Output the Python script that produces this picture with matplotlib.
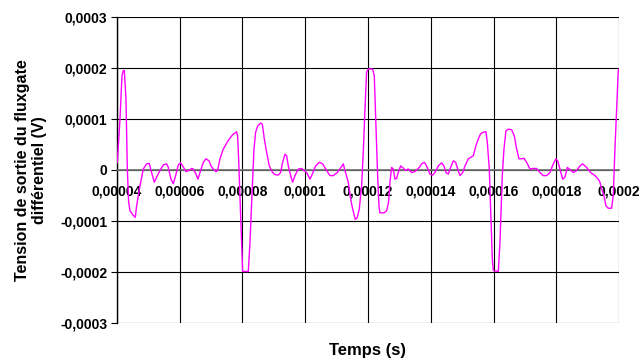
import matplotlib
matplotlib.use('Agg')
import matplotlib.pyplot as plt

plt.rcParams['font.family'] = ['Liberation Sans', 'DejaVu Sans']

# temps en microsecondes, tension en microvolts
t_us = [40.11, 40.96, 41.6, 42.02, 42.34, 42.87, 43.3, 43.72, 44.14, 45.2, 45.84, 46.27,
        47.33, 48.39, 49.45, 50.3, 50.73, 51.9, 52.64, 53.7, 54.76, 55.83, 56.36, 57.21,
        57.95, 58.7, 59.55, 60.29, 60.93, 61.99, 62.94, 63.79, 64.32, 65.17, 65.81, 66.45,
        67.51, 68.36, 69.32, 69.96, 70.7, 71.55, 72.08, 72.82, 73.88, 75.47, 76.85, 78.13,
        78.45, 78.77, 79.19, 79.73, 80.05, 81.85, 82.39, 82.92, 83.66, 84.19, 84.83, 85.79,
        86.32, 86.95, 87.69, 88.54, 89.5, 90.35, 91.41, 92.15, 92.8, 93.54, 94.07, 94.6,
        95.35, 95.99, 96.73, 97.79, 98.85, 99.6, 100.45, 101.51, 102.25, 103.31, 104.48,
        105.54, 106.82, 107.88, 108.94, 110.22, 111.38, 112.13, 112.66, 113.72, 114.47,
        115.1, 115.95, 116.59, 117.23, 117.97, 118.5, 119.04, 119.56, 120.1, 121.47, 122.0,
        122.54, 123.07, 123.49, 123.81, 125.09, 125.93, 126.57, 127.0, 127.53, 128.06,
        128.59, 129.12, 129.65, 130.4, 131.03, 131.99, 132.84, 133.9, 134.96, 136.35,
        137.09, 137.94, 138.68, 139.74, 140.6, 141.34, 142.4, 143.46, 144.2, 144.84, 145.6,
        146.34, 147.19, 147.93, 148.57, 149.32, 150.17, 150.91, 151.97, 152.82, 153.56,
        154.41, 155.16, 155.9, 156.75, 157.6, 158.03, 158.66, 159.09, 159.62, 159.94,
        161.53, 162.06, 162.8, 163.33, 163.97, 164.72, 165.78, 166.63, 167.37, 168.11,
        168.96, 169.71, 170.56, 171.62, 172.68, 173.74, 174.8, 175.86, 176.93, 177.99,
        179.05, 179.9, 180.43, 181.18, 182.03, 182.77, 183.51, 184.36, 185.42, 186.49,
        187.55, 188.4, 189.67, 190.95, 192.33, 193.39, 193.92, 194.45, 195.19, 195.83,
        196.57, 197.64, 198.17, 198.7, 199.23, 199.76, 200.0]
v_uv = [15, 100, 185, 195, 195, 139, 2, -63, -80, -89, -93, -70,
        -31, 2, 12, 13, 2, -24, -14, -1, 10, 12, 5, -18,
        -27, -11, 10, 14, 8, -3, -1, 3, 2, -8, -18, -5,
        15, 22, 18, 8, 2, -3, -1, 22, 41, 58, 69, 75,
        67, 22, -50, -142, -199, -199, -142, -63, 41, 74, 86, 92,
        90, 61, 35, 8, -4, -9, -10, -5, 15, 31, 28, 8,
        -11, -24, -11, 2, 3, -1, -5, -18, -8, 8, 15,
        12, -1, -11, -11, -5, 5, 12, -1, -24, -57,
        -76, -97, -93, -76, -31, 35, 120, 192, 198, 198, 185,
        87, -11, -70, -84, -84, -80, -63, -24, 5, 2,
        -18, -16, -5, 8, 5, -1, 2, -5, -3, 5,
        12, 15, 8, -8, -10, -5, 8, 14, 8, -5, -8,
        5, 18, 15, 2, -11, -5, 8, 22, 25, 28,
        48, 61, 71, 74, 75, 54, 2, -76, -174, -197,
        -199, -142, -11, 41, 77, 80, 79, 67, 41, 22,
        22, 23, 15, 2, 3, 3, -5, -11, -11, -5,
        12, 22, 18, 2, -18, -14, 5, 1, -5, -1,
        8, 12, 5, -5, -11, -18, -24, -37, -50, -70,
        -75, -75, -50, 41, 120, 195, 198]

x_ticks = [4e-5, 6e-5, 8e-5, 1e-4, 1.2e-4, 1.4e-4, 1.6e-4, 1.8e-4, 2e-4]
x_labels = ['0,00004', '0,00006', '0,00008', '0,0001', '0,00012', '0,00014',
            '0,00016', '0,00018', '0,0002']
y_ticks = [-3e-4, -2e-4, -1e-4, 0, 1e-4, 2e-4, 3e-4]
y_labels = ['-0,0003', '-0,0002', '-0,0001', '0', '0,0001', '0,0002', '0,0003']

t = [v * 1e-6 for v in t_us]
v = [u * 1e-6 for u in v_uv]

fig = plt.figure(figsize=(6.42, 3.63), dpi=100)
ax = fig.add_axes([0.1822, 0.1102, 0.9642 - 0.1822, 0.9532 - 0.1102])

# axe des x sur la ligne zero (avant de regler les graduations)
ax.spines['bottom'].set_position(('data', 0))
ax.spines['bottom'].set_color('#707070')
ax.spines['bottom'].set_linewidth(1.2)
ax.spines['top'].set_visible(False)
ax.spines['right'].set_visible(False)
ax.spines['left'].set_linewidth(1.0)

ax.plot(t, v, color='#FF00FF', lw=1.0, zorder=3)

ax.set_xlim(4e-5, 2e-4)
ax.set_ylim(-3e-4, 3e-4)
ax.set_xticks(x_ticks)
ax.set_xticklabels(x_labels)
ax.set_yticks(y_ticks)
ax.set_yticklabels(y_labels)
ax.grid(True, color='black', lw=0.8)

ax.tick_params(axis='x', length=0, pad=10.5, labelsize=10)
ax.tick_params(axis='y', direction='out', length=4, width=0.8, pad=3, labelsize=10)
for lbl in ax.get_xticklabels() + ax.get_yticklabels():
    lbl.set_fontweight('bold')
    lbl.set_zorder(4)

ax.set_xlabel('Temps (s)', fontsize=12, fontweight='bold')
ax.xaxis.set_label_coords(0.5, -0.065)
ax.set_ylabel('Tension de sortie du fluxgate\ndifférentiel (V)', fontsize=11.5,
              fontweight='bold', linespacing=1.15)
ax.yaxis.set_label_coords(-0.14, 0.5)

fig.savefig('out.png', dpi=100)
